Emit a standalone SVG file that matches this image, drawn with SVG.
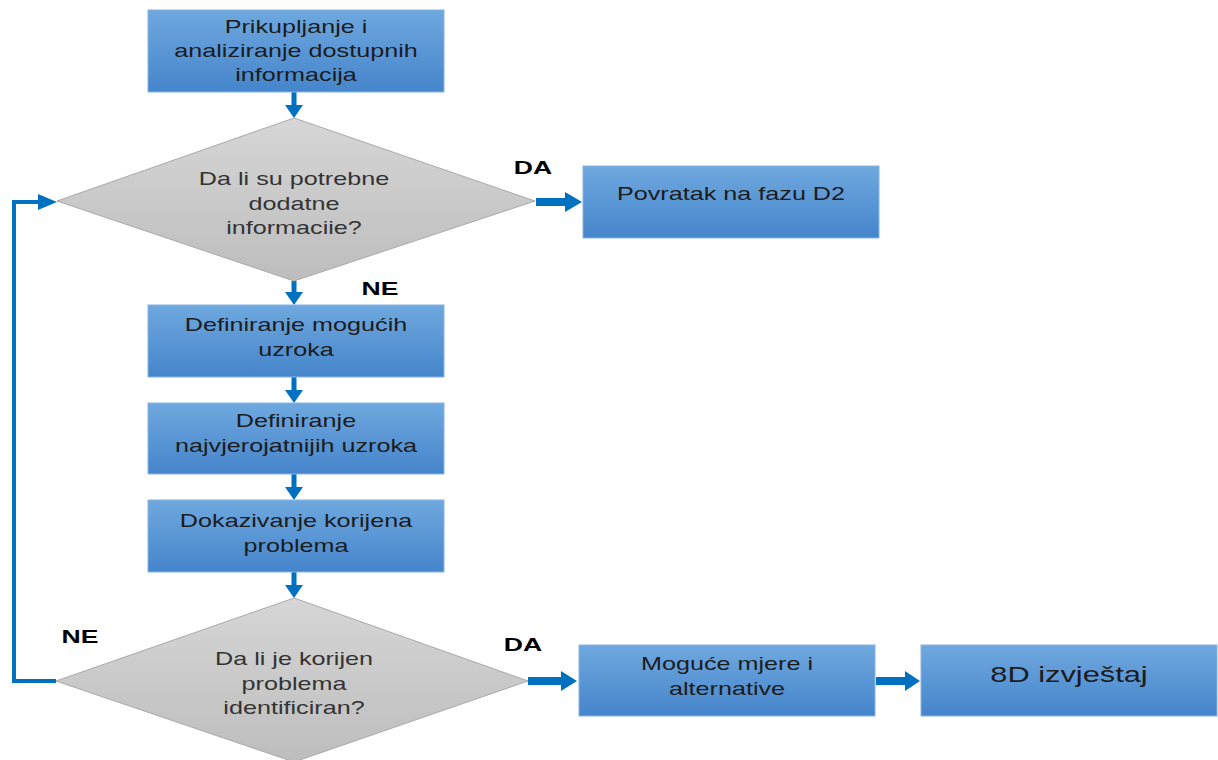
<svg xmlns="http://www.w3.org/2000/svg" width="1218" height="760" viewBox="0 0 1218 760">
<defs>
<linearGradient id="gb" x1="0" y1="0" x2="0" y2="1">
<stop offset="0" stop-color="#6fa8df"/>
<stop offset="1" stop-color="#4585cb"/>
</linearGradient>
<linearGradient id="gg" x1="0" y1="0" x2="0" y2="1">
<stop offset="0" stop-color="#d6d6d6"/>
<stop offset="1" stop-color="#bdbdbd"/>
</linearGradient>
<style>
.box{fill:url(#gb);stroke:#86b4e2;stroke-width:1}
.dia{fill:url(#gg);stroke:#a9a9a9;stroke-width:1}
.t{font-family:"Liberation Sans",Arial,sans-serif;font-size:18px;fill:#1c1c1c;text-anchor:middle}
.td{font-family:"Liberation Sans",Arial,sans-serif;font-size:18px;fill:#333;text-anchor:middle}
.big{font-size:22px}
.lbl{font-family:"Liberation Sans",Arial,sans-serif;font-size:19px;font-weight:bold;fill:#000;text-anchor:middle}
.arr{fill:#0070c0}
.line{fill:none;stroke:#0070c0;stroke-width:4}
</style>
</defs>
<rect width="1218" height="760" fill="#fff"/>

<g id="connectors">
<polygon class="arr" points="291.5,92 296.5,92 296.5,105 303,105 294,118 285,105 291.5,105"/>
<polygon class="arr" points="291.5,281 296.5,281 296.5,292 303,292 294,305 285,292 291.5,292"/>
<polygon class="arr" points="291.5,377 296.5,377 296.5,390 303,390 294,403 285,390 291.5,390"/>
<polygon class="arr" points="291.5,474 296.5,474 296.5,487 303,487 294,500 285,487 291.5,487"/>
<polygon class="arr" points="291.5,572 296.5,572 296.5,585 303,585 294,598 285,585 291.5,585"/>
<polygon class="arr" points="536,198 565,198 565,192 582,202 565,212 565,206 536,206"/>
<polygon class="arr" points="528,677 561,677 561,671 577,681 561,691 561,685 528,685"/>
<polygon class="arr" points="876,677 905,677 905,671 920,681 905,691 905,685 876,685"/>
<path class="line" d="M56,681 H14 V202 H40"/>
<polygon class="arr" points="38,194 57,202 38,210"/>
<text class="lbl" transform="translate(533,174) scale(1.4,1)">DA</text>
<text class="lbl" transform="translate(380,295) scale(1.4,1)">NE</text>
<text class="lbl" transform="translate(80,643) scale(1.4,1)">NE</text>
<text class="lbl" transform="translate(523,651) scale(1.4,1)">DA</text>
</g>

<g id="n1">
<rect class="box" x="148" y="10" width="296" height="82"/>
<text class="t" transform="translate(296,0) scale(1.4,1)"><tspan x="0" y="33">Prikupljanje i</tspan><tspan x="0" y="57">analiziranje dostupnih</tspan><tspan x="0" y="81">informacija</tspan></text>
</g>

<g id="d1">
<polygon class="dia" points="294,118 535,201 294,281 57,201"/>
<text class="td" transform="translate(294,0) scale(1.4,1)"><tspan x="0" y="185">Da li su potrebne</tspan><tspan x="0" y="210">dodatne</tspan><tspan x="0" y="234">informaciie?</tspan></text>
</g>

<g id="n2">
<rect class="box" x="583" y="166" width="296" height="72"/>
<text class="t" transform="translate(731,0) scale(1.4,1)"><tspan x="0" y="200">Povratak na fazu D2</tspan></text>
</g>

<g id="n3">
<rect class="box" x="148" y="305" width="296" height="72"/>
<text class="t" transform="translate(296,0) scale(1.4,1)"><tspan x="0" y="331">Definiranje mogućih</tspan><tspan x="0" y="356">uzroka</tspan></text>
</g>

<g id="n4">
<rect class="box" x="148" y="403" width="296" height="71"/>
<text class="t" transform="translate(296,0) scale(1.4,1)"><tspan x="0" y="427">Definiranje</tspan><tspan x="0" y="452">najvjerojatnijih uzroka</tspan></text>
</g>

<g id="n5">
<rect class="box" x="148" y="500" width="296" height="72"/>
<text class="t" transform="translate(296,0) scale(1.4,1)"><tspan x="0" y="527">Dokazivanje korijena</tspan><tspan x="0" y="552">problema</tspan></text>
</g>

<g id="d2">
<polygon class="dia" points="294,598 528,681 294,762 56,681"/>
<text class="td" transform="translate(294,0) scale(1.4,1)"><tspan x="0" y="665">Da li je korijen</tspan><tspan x="0" y="690">problema</tspan><tspan x="0" y="714">identificiran?</tspan></text>
</g>

<g id="n6">
<rect class="box" x="579" y="645" width="296" height="71"/>
<text class="t" transform="translate(727,0) scale(1.4,1)"><tspan x="0" y="670">Moguće mjere i</tspan><tspan x="0" y="695">alternative</tspan></text>
</g>

<g id="n7">
<rect class="box" x="921" y="645" width="296" height="71"/>
<text class="t big" transform="translate(1069,0) scale(1.4,1)"><tspan x="0" y="682">8D izvještaj</tspan></text>
</g>
</svg>
